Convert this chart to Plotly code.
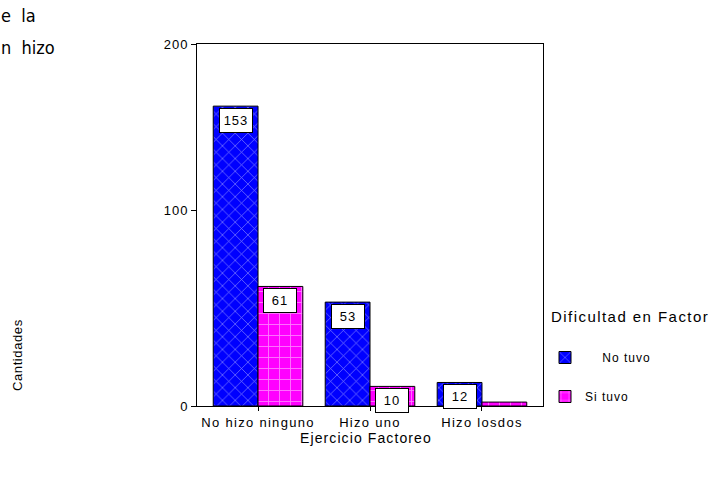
import plotly.graph_objects as go

# Data
categories = ["No hizo ninguno", "Hizo uno", "Hizo losdos"]
no_tuvo = [153, 53, 12]
si_tuvo = [61, 10, 2]

# Axis ticks (the top tick sits at the plot edge)
y_top = 184.7
y_tickvals = [0, 100, y_top]
y_ticktext = ["0", "100", "200"]

BLUE = "#0000FF"
MAGENTA = "#FF00FF"
FONT = "Arial, Liberation Sans"
HEAD_FONT = "Liberation Sans Narrow, DejaVu Sans Condensed"


def spaced(text, px=1.2):
    return f'<span style="letter-spacing:{px}px">{text}</span>'


fig = go.Figure()
fig.add_trace(go.Bar(
    name=spaced("    No tuvo", 1.0), x=categories, y=no_tuvo,
    marker=dict(color=BLUE, line=dict(color="black", width=1),
                pattern=dict(shape="x", fgcolor="white", bgcolor=BLUE,
                             size=9, solidity=0.15)),
    legendgroup="a",
))
fig.add_trace(go.Bar(
    name=spaced("Si tuvo", 1.0), x=categories, y=si_tuvo,
    marker=dict(color=MAGENTA, line=dict(color="black", width=1),
                pattern=dict(shape="+", fgcolor="white", bgcolor=MAGENTA,
                             size=11, solidity=0.15)),
    legendgroup="b",
))

# Value boxes near the top of each bar (skip the tiny last bar)
offsets = [-0.2, 0.2]
for k, series in enumerate([no_tuvo, si_tuvo]):
    for i, v in enumerate(series):
        if v < 5:
            continue
        fig.add_annotation(
            x=i + offsets[k], y=v, xref="x", yref="y",
            text=spaced(str(v), 1.0), showarrow=False, yanchor="top", yshift=-2,
            font=dict(family=FONT, size=13, color="black"),
            bgcolor="white", bordercolor="black", borderwidth=1,
            borderpad=3, width=26, height=17,
        )


def px_x(p):
    return (p - 197) / 346


def px_y(p):
    return (406 - p) / 362


# Axis titles, legend heading and the clipped heading at the top left
fig.add_annotation(text=spaced("Ejercicio Factoreo", 1.1), xref="paper", yref="paper",
                   x=px_x(366), y=px_y(438), showarrow=False,
                   xanchor="center", yanchor="middle",
                   font=dict(family=FONT, size=14, color="black"))
fig.add_annotation(text=spaced("Cantidades", 0.6), xref="paper", yref="paper",
                   x=px_x(17), y=px_y(355), showarrow=False,
                   xanchor="center", yanchor="middle", textangle=-90,
                   font=dict(family=FONT, size=13, color="black"))
fig.add_annotation(text=spaced("Dificultad en Factor", 1.45), xref="paper", yref="paper",
                   x=px_x(549), y=px_y(316), showarrow=False,
                   xanchor="left", yanchor="middle",
                   font=dict(family=FONT, size=15, color="black"))
fig.add_annotation(text="e  la", xref="paper", yref="paper",
                   x=px_x(0), y=px_y(16), xshift=-1, showarrow=False,
                   xanchor="left", yanchor="middle",
                   font=dict(family=HEAD_FONT, size=18, color="black"))
fig.add_annotation(text="n  hizo", xref="paper", yref="paper",
                   x=px_x(0), y=px_y(47), xshift=-1, showarrow=False,
                   xanchor="left", yanchor="middle",
                   font=dict(family=HEAD_FONT, size=18, color="black"))

fig.update_layout(
    width=713, height=477,
    margin=dict(l=197, r=170, t=44, b=71),
    paper_bgcolor="white", plot_bgcolor="white",
    barmode="group", bargap=0.2, bargroupgap=0,
    font=dict(family=FONT, size=12, color="black"),
    showlegend=True,
    legend=dict(
        x=px_x(545), y=px_y(343), xanchor="left", yanchor="top",
        font=dict(family=FONT, size=12),
        tracegroupgap=20, bgcolor="rgba(0,0,0,0)",
    ),
)
fig.update_xaxes(
    range=[-0.545, 2.545], showline=True, linecolor="black", linewidth=1,
    mirror=True, ticks="outside", ticklen=4, tickcolor="black",
    tickvals=categories, ticktext=[spaced(c, 1.3) for c in categories],
    showgrid=False, tickfont=dict(size=13),
)
fig.update_yaxes(
    range=[0, y_top], tickvals=y_tickvals,
    ticktext=[spaced(t, 1.0) for t in y_ticktext],
    showline=True, linecolor="black", linewidth=1, mirror=True,
    ticks="outside", ticklen=5, tickcolor="black", showgrid=False,
    zeroline=False, tickfont=dict(size=13),
)

fig.write_html("out.html")
